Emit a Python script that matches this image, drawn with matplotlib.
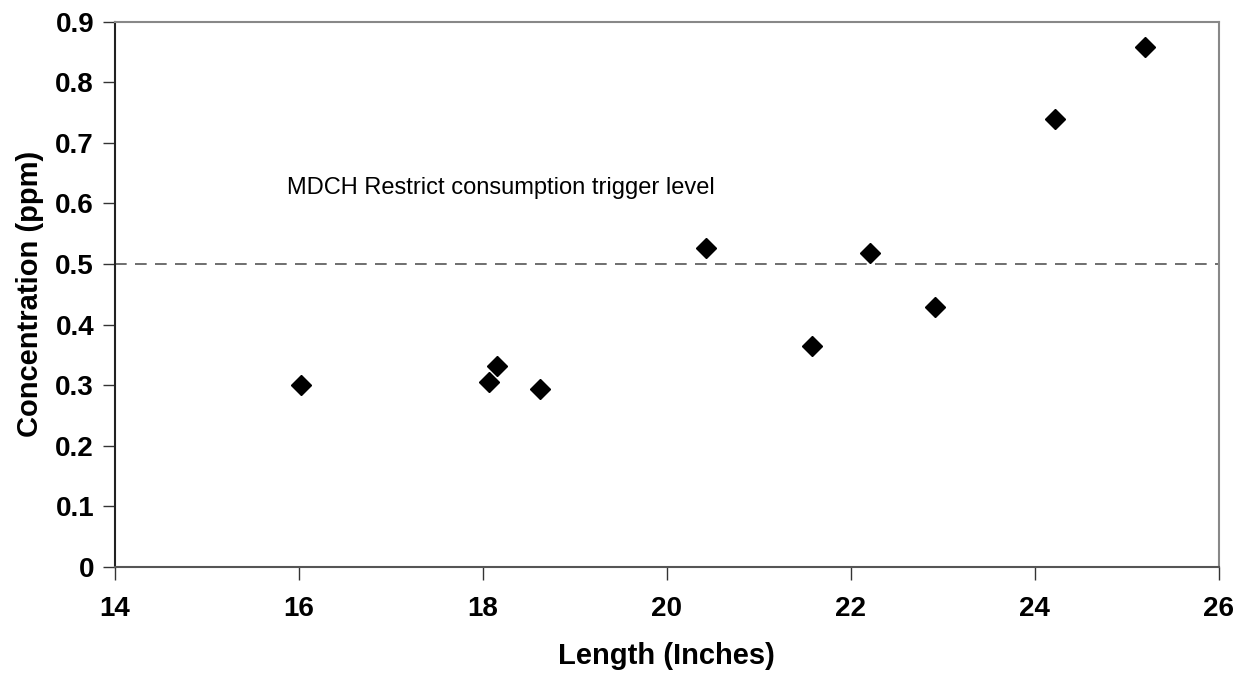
import matplotlib
matplotlib.use('Agg')
import matplotlib.pyplot as plt

# fish length (inches) vs mercury concentration (ppm)
length_in = [16.02, 18.07, 18.15, 18.62, 20.43, 21.58, 22.21, 22.92, 24.22, 25.20]
conc_ppm = [0.301, 0.305, 0.332, 0.294, 0.527, 0.365, 0.519, 0.429, 0.740, 0.858]

trigger_level = 0.5
trigger_text = "MDCH Restrict consumption trigger level"

x_ticks = [14, 16, 18, 20, 22, 24, 26]
y_ticks = [0, 0.1, 0.2, 0.3, 0.4, 0.5, 0.6, 0.7, 0.8, 0.9]
y_tick_labels = ["0", "0.1", "0.2", "0.3", "0.4", "0.5", "0.6", "0.7", "0.8", "0.9"]

plt.rcParams['font.family'] = ['Liberation Sans', 'DejaVu Sans']

fig = plt.figure(figsize=(12.36, 6.79), dpi=100, facecolor="white")
ax = fig.add_axes([0.093, 0.165, 0.893, 0.803])

ax.axhline(trigger_level, color="#555555", linewidth=1.2, linestyle=(0, (7, 5)), zorder=1)
ax.plot(length_in, conc_ppm, linestyle="none", marker="D", markersize=10,
        color="black", zorder=3)

ax.text(15.87, 0.625, trigger_text, fontsize=17, color="black", va="center", ha="left")

ax.set_xlim(14, 26)
ax.set_ylim(0, 0.9)
ax.set_xticks(x_ticks)
ax.set_yticks(y_ticks)
ax.set_yticklabels(y_tick_labels)

for lbl in ax.get_xticklabels() + ax.get_yticklabels():
    lbl.set_fontweight("bold")
    lbl.set_fontsize(20)

ax.tick_params(axis="both", direction="out", length=9, width=1, color="#333333")
ax.tick_params(axis="x", pad=12)
ax.tick_params(axis="y", pad=6)

ax.set_xlabel("Length (Inches)", fontsize=21, fontweight="bold", labelpad=14)
ax.set_ylabel("Concentration (ppm)", fontsize=21, fontweight="bold", labelpad=8)

ax.spines["left"].set_color("#222222")
ax.spines["bottom"].set_color("#555555")
ax.spines["top"].set_color("#888888")
ax.spines["right"].set_color("#888888")
for s in ax.spines.values():
    s.set_linewidth(1.5)

fig.savefig("out.png", dpi=100, facecolor="white")
